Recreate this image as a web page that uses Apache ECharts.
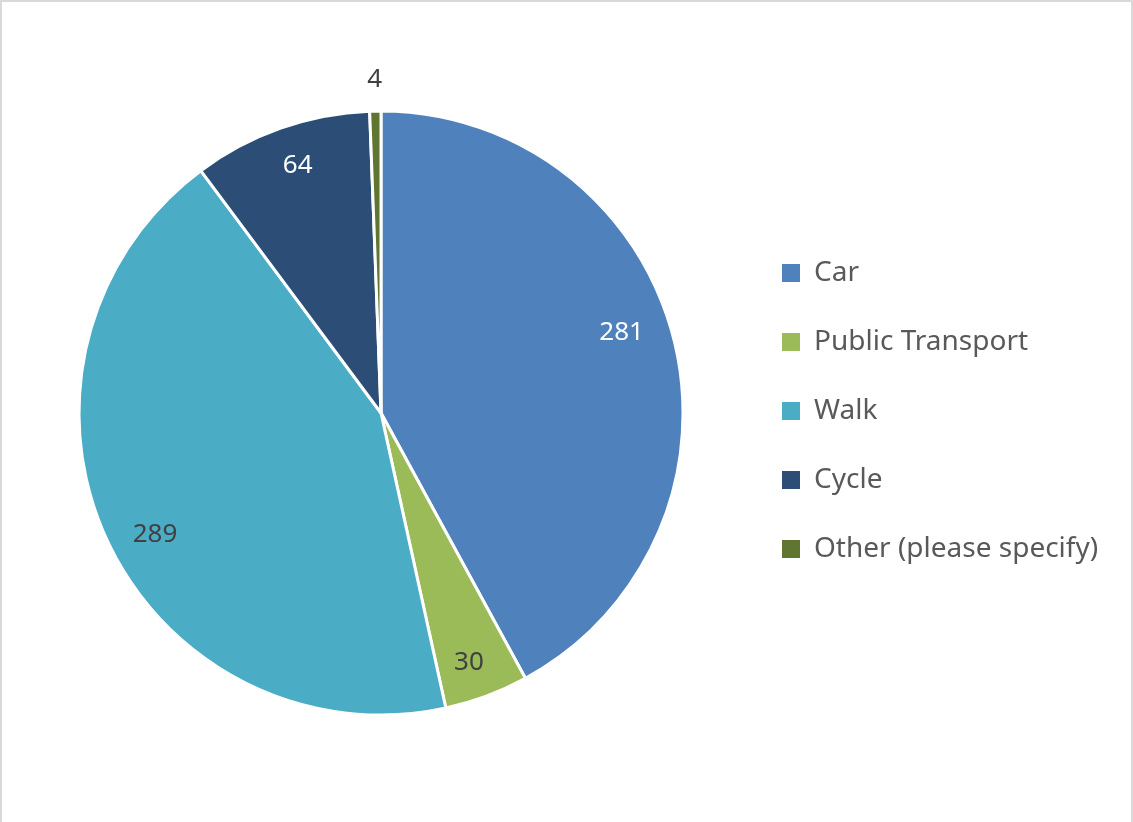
<!DOCTYPE html>
<html><head><meta charset="utf-8">
<script src="https://cdn.jsdelivr.net/npm/echarts@6/dist/echarts.min.js"></script>
<style>
html,body{margin:0;padding:0;background:#fff;overflow:hidden}
#chart{position:absolute;left:0;top:0;width:1133px;height:822px}
#frame{position:absolute;left:0;top:0;width:1129px;height:830px;border:2px solid #d9d9d9;pointer-events:none}
</style></head><body><div id="chart"></div><div id="frame"></div>
<script>
const categories = ['Car', 'Public Transport', 'Walk', 'Cycle', 'Other (please specify)'];
const values = [281, 30, 289, 64, 4];

const colors = ['#4F81BD', '#9BBB59', '#4BACC6', '#2C4D75', '#5F7530'];
const labelColors = ['#ffffff', '#404040', '#404040', '#ffffff', '#404040'];
const labelOutside = [false, false, false, false, true];
const labelOffsets = [[-14, -16], [-4, 3], [13, 13], [4, 0], [0, 5]];

const R = 302;
const center = [381, 413];
const fontFamily = '"Noto Sans", "Open Sans", sans-serif';

const mainData = categories.map((c, i) => ({ name: c, value: values[i], itemStyle: { color: colors[i] } }));
const innerLabelData = categories.map((c, i) => ({
  name: c, value: values[i],
  label: { show: !labelOutside[i], color: labelColors[i], offset: labelOffsets[i] }
}));
const outerLabelData = categories.map((c, i) => ({
  name: c, value: values[i],
  label: { show: labelOutside[i], color: labelColors[i], offset: labelOffsets[i] }
}));

const labelBase = { position: 'inside', fontSize: 26, fontFamily: fontFamily, formatter: '{c}' };
const transparent = { color: 'rgba(0,0,0,0)', borderWidth: 0 };

const chart = echarts.init(document.getElementById('chart'), null, { renderer: 'canvas' });
chart.setOption({
  animation: false,
  textStyle: { fontFamily: fontFamily },
  legend: {
    orient: 'vertical',
    left: 775, top: 254,
    icon: 'rect', itemWidth: 20, itemHeight: 20, itemGap: 41,
    selectedMode: false,
    data: categories,
    textStyle: { fontSize: 28, lineHeight: 28, color: '#595959', fontFamily: fontFamily, padding: [0, 0, 0, 8] }
  },
  series: [
    {
      type: 'pie', center: center, radius: R, startAngle: 90, clockwise: true,
      data: mainData, label: { show: false }, labelLine: { show: false },
      itemStyle: { borderColor: '#ffffff', borderWidth: 3 },
      emphasis: { disabled: true }, silent: true
    },
    {
      type: 'pie', center: center, radius: [R * 0.72, R], startAngle: 90, clockwise: true,
      data: innerLabelData, label: labelBase, labelLine: { show: false },
      itemStyle: transparent, emphasis: { disabled: true }, silent: true, legendHoverLink: false
    },
    {
      type: 'pie', center: center, radius: [R, R * 1.22], startAngle: 90, clockwise: true,
      data: outerLabelData, label: labelBase, labelLine: { show: false },
      itemStyle: transparent, emphasis: { disabled: true }, silent: true, legendHoverLink: false
    }
  ]
});
</script></body></html>
